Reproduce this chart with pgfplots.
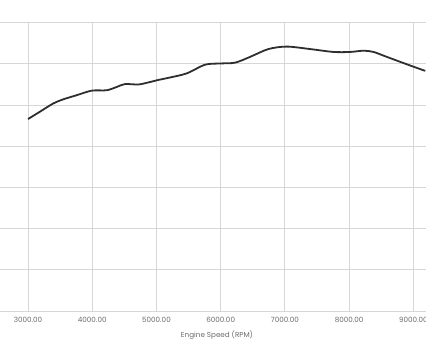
\documentclass[border=0pt]{standalone}
\usepackage{fontspec}
\setmainfont{Poppins}
\usepackage{pgfplots}
\pgfplotsset{compat=1.18}
\definecolor{gridc}{HTML}{D6D6D6}
\definecolor{basec}{HTML}{C4C4C4}
\definecolor{linec}{HTML}{2E2E2E}
\definecolor{txtc}{HTML}{6A6A6A}
\begin{document}
\begin{tikzpicture}
\begin{axis}[
  scale only axis,
  width=426pt, height=288.3pt,
  xmin=2564, xmax=9197,
  ymin=0, ymax=7,
  xtick={3000,4000,5000,6000,7000,8000,9000},
  xticklabels={3000.00,4000.00,5000.00,6000.00,7000.00,8000.00,9000.00},
  ytick={1,2,3,4,5,6,7},
  yticklabels={},
  extra y ticks={0},
  extra y tick labels={},
  extra y tick style={grid style={draw=basec, line width=1.4pt}},
  grid=major,
  major grid style={draw=gridc, line width=0.9pt},
  axis line style={draw=none},
  major tick length=0pt,
  tick style={draw=none},
  x tick label style={font=\fontsize{7.2}{8}\selectfont, text=txtc, anchor=center, yshift=-9pt},
  xlabel={Engine Speed (RPM)},
  x label style={font=\fontsize{7.2}{8}\selectfont, text=txtc, at={(axis description cs:0.5,0)}, anchor=center, yshift=-24pt, xshift=4pt},
  clip=false,
]
\addplot[color=linec, line width=1.8pt, smooth, tension=0.5] coordinates {
(3000,4.66) (3187,4.84) (3394,5.04) (3550,5.14) (3759,5.24) (3992,5.35)
(4226,5.36) (4382,5.44) (4511,5.51) (4718,5.50) (4874,5.55) (5030,5.61)
(5212,5.67) (5472,5.77) (5757,5.98) (5991,6.01) (6224,6.03) (6458,6.17)
(6743,6.36) (7030,6.42) (7393,6.36) (7756,6.29) (8016,6.29) (8223,6.32)
(8379,6.29) (8587,6.17) (8899,5.99) (9185,5.83)
};
\end{axis}
\pgfresetboundingbox
\useasboundingbox (0,-40pt) rectangle (426pt,311pt);
\end{tikzpicture}
\end{document}
